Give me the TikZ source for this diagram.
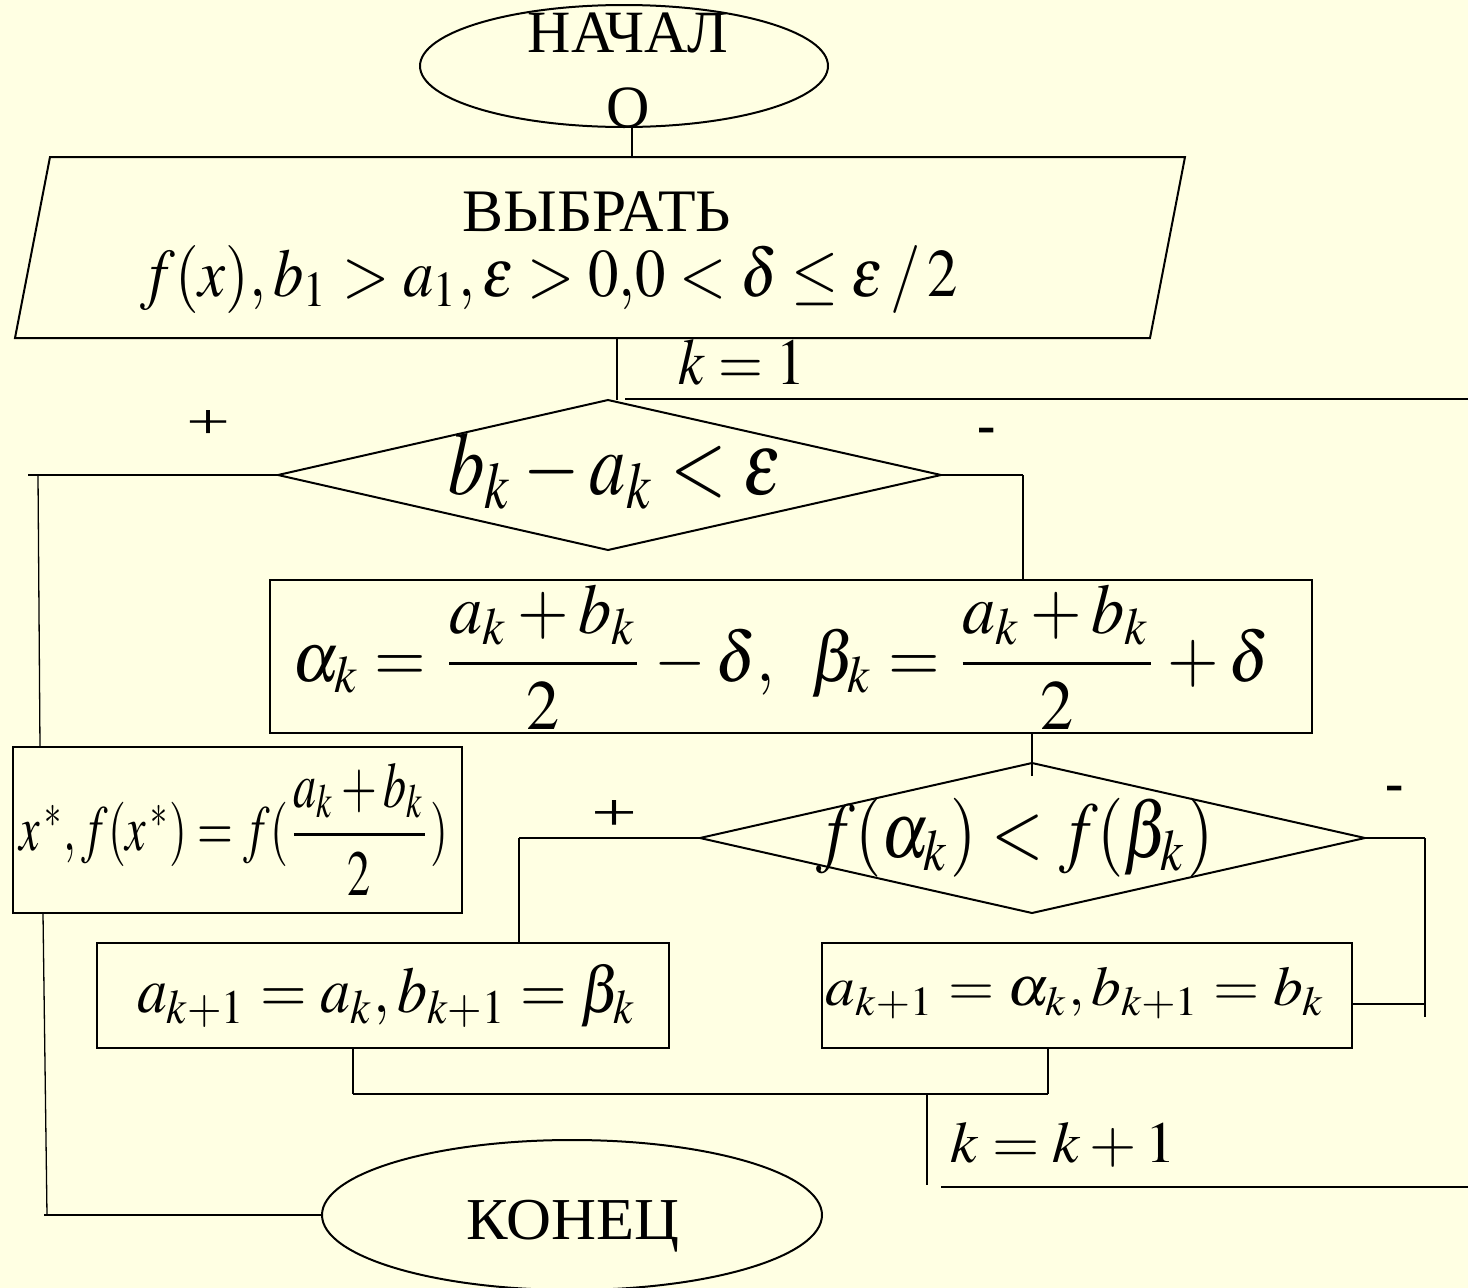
\documentclass[tikz,border=0pt]{standalone}
\usepackage{mathptmx}
\usepackage{fontspec}
\setmainfont{Liberation Serif}
\usetikzlibrary{shapes.geometric}
\definecolor{bgc}{RGB}{255,255,227}
\tikzset{
  shapeline/.style={line width=2pt, line join=miter},
  hline/.style={line width=2pt},
  vline/.style={line width=1.3pt},
  lbl/.style={inner sep=0pt, outer sep=0pt},
  signlbl/.style={inner sep=0pt, outer sep=0pt, font=\fontsize{55}{55}\selectfont},
}
\newcommand{\fitbox}[3]{\resizebox*{#1pt}{#2pt}{#3}}
\begin{document}
\begin{tikzpicture}[x=1pt,y=-1pt]
\fill[bgc] (0,0) rectangle (1468,1288);
\useasboundingbox (0,0) rectangle (1468,1288);
\clip (0,0) rectangle (1468,1288);

% ---------- start ----------
\node[draw, ellipse, shapeline, minimum width=408pt, minimum height=122pt, inner sep=0pt] (start) at (624,66) {};
\node[lbl, align=center, font=\fontsize{60}{75}\selectfont] (starttxt) at (628,70) {НАЧАЛ\\О};

% ---------- input parallelogram ----------
\coordinate (p1) at (50,157);
\coordinate (p2) at (1185,157);
\coordinate (p3) at (1150,338);
\coordinate (p4) at (15,338);
\draw[shapeline] (p1) -- (p2) -- (p3) -- (p4) -- cycle;
\node[lbl] (choose) at (597,212) {\fitbox{268}{40}{\fontsize{60}{60}\selectfont ВЫБРАТЬ}};
\node[lbl] (given) at (549,279) {\fitbox{817}{68}{$f(x),b_1>a_1,\varepsilon>0{,}0<\delta\le\varepsilon\,/\,2$}};

% ---------- k = 1 ----------
\coordinate (in1) at (632,127);
\coordinate (in2) at (632,157);
\draw[vline] (in1) -- (in2);
\coordinate (o1) at (617,338);
\coordinate (o2) at (617,400);
\draw[vline] (o1) -- (o2);
\node[lbl] (kone) at (742,362) {\fitbox{126}{46}{$k=1$}};
\coordinate (loopA) at (625,399);
\coordinate (loopB) at (1468,399);
\draw[hline] (loopA) -- (loopB);

% ---------- decision 1 ----------
\coordinate (d1t) at (608,400);
\coordinate (d1r) at (941,475);
\coordinate (d1b) at (608,550);
\coordinate (d1l) at (278,475);
\draw[shapeline] (d1t) -- (d1r) -- (d1b) -- (d1l) -- cycle;
\node[lbl] (cond1) at (615,471) {\fitbox{333}{77}{$b_k-a_k<\varepsilon$}};
\node[lbl] (plus1) at (209,424) {\fitbox{44}{28}{+}};
\node[signlbl] (minus1) at (987,436) {\bfseries -};

% left branch (yes)
\coordinate (yl1) at (28,475);
\coordinate (yv1) at (38,475);
\coordinate (yv2) at (40,747);
\draw[hline] (d1l) -- (yl1);
\draw[vline] (yv1) -- (yv2);

% right branch (no)
\coordinate (nr1) at (1023,475);
\coordinate (nr2) at (1023,580);
\draw[hline] (d1r) -- (nr1);
\draw[vline] (nr1) -- (nr2);

% ---------- process alpha/beta ----------
\node[draw, shapeline, rectangle, minimum width=1042pt, minimum height=153pt, inner sep=0pt] (calc) at (791,656.5) {};
\node[lbl] (calctxt) at (781,657) {\fitbox{977}{145}{$\displaystyle \alpha_k=\frac{a_k+b_k}{2}-\delta,\;\;\beta_k=\frac{a_k+b_k}{2}+\delta$}};

\coordinate (c1) at (1032,733);
\coordinate (c2) at (1032,776);
\draw[vline] (c1) -- (c2);

% ---------- output ----------
\node[draw, shapeline, rectangle, minimum width=449pt, minimum height=166pt, inner sep=0pt] (out) at (237.5,830) {};
\node[lbl] (outtxt) at (234,829) {\fitbox{428}{132}{$x^{\,*},f(x^{\,*})=f({\displaystyle\frac{a_k+b_k}{2}})$}};

% ---------- decision 2 ----------
\coordinate (d2t) at (1032,763);
\coordinate (d2r) at (1365,838);
\coordinate (d2b) at (1032,913);
\coordinate (d2l) at (700,838);
\draw[shapeline] (d2t) -- (d2r) -- (d2b) -- (d2l) -- cycle;
\node[lbl] (cond2) at (1015,838) {\fitbox{397}{79}{$f(\alpha_k)<f(\beta_k)$}};
\node[lbl] (plus2) at (615,815) {\fitbox{46}{30}{+}};
\node[signlbl] (minus2) at (1395,794) {\bfseries -};

\coordinate (yl2) at (519,838);
\coordinate (yl3) at (519,943);
\draw[hline] (d2l) -- (yl2);
\draw[vline] (yl2) -- (yl3);

\coordinate (nr3) at (1425,838);
\coordinate (nr4) at (1425,1017);
\coordinate (nr5) at (1352,1004);
\coordinate (nr6) at (1425,1004);
\draw[hline] (d2r) -- (nr3);
\draw[vline] (nr3) -- (nr4);
\draw[hline] (nr5) -- (nr6);

% ---------- update boxes ----------
\node[draw, shapeline, rectangle, minimum width=572pt, minimum height=105pt, inner sep=0pt] (upa) at (383,995.5) {};
\node[lbl] (upatxt) at (387,996) {\fitbox{500}{63}{$a_{k+1}=a_k,b_{k+1}=\beta_k$}};
\node[draw, shapeline, rectangle, minimum width=530pt, minimum height=105pt, inner sep=0pt] (upb) at (1087,995.5) {};
\node[lbl] (upbtxt) at (1076,993) {\fitbox{500}{51}{$a_{k+1}=\alpha_k,b_{k+1}=b_k$}};

% merge
\coordinate (m1) at (353,1048);
\coordinate (m2) at (353,1094);
\coordinate (m3) at (1048,1094);
\coordinate (m4) at (1048,1048);
\draw[vline] (m1) -- (m2);
\draw[hline] (m2) -- (m3);
\draw[vline] (m3) -- (m4);

\coordinate (k1) at (927,1094);
\coordinate (k2) at (927,1185);
\draw[vline] (k1) -- (k2);
\node[lbl] (kinc) at (1063,1145) {\fitbox{225}{45}{$k=k+1$}};
\coordinate (k3) at (941,1187);
\coordinate (k4) at (1468,1187);
\draw[hline] (k3) -- (k4);

% ---------- end ----------
\node[draw, ellipse, shapeline, minimum width=500pt, minimum height=150pt, inner sep=0pt] (stop) at (572,1215) {};
\node[lbl] (stoptxt) at (573,1226) {\fitbox{213}{52}{\fontsize{60}{60}\selectfont КОНЕЦ}};

\coordinate (e1) at (43,913);
\coordinate (e2) at (47,1215);
\coordinate (e3) at (44,1215);
\coordinate (e4) at (323,1215);
\draw[vline] (e1) -- (e2);
\draw[hline] (e3) -- (e4);
\end{tikzpicture}
\end{document}
